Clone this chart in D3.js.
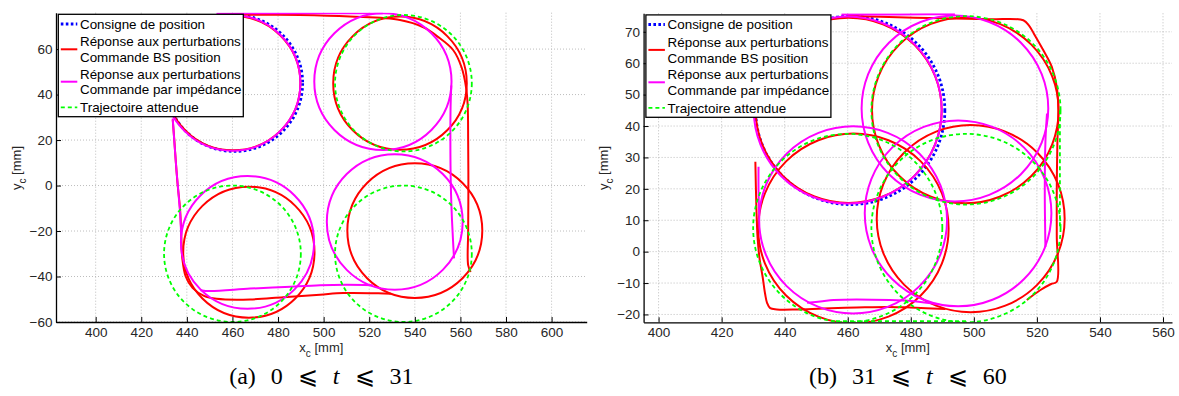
<!DOCTYPE html>
<html><head><meta charset="utf-8">
<script src="https://cdn.jsdelivr.net/npm/d3@7"></script>
<style>
body{margin:0;background:#fff;}
svg{display:block;}
.tick text{font-family:"Liberation Sans",Arial,sans-serif;font-size:13.5px;fill:#262626;}
.lbl{font-family:"Liberation Sans",Arial,sans-serif;font-size:13px;fill:#262626;}
.leg{font-family:"Liberation Sans",Arial,sans-serif;font-size:13.4px;fill:#000;}
.cap{font-family:"Liberation Serif","Times New Roman",serif;font-size:24px;fill:#000;word-spacing:9px;}
</style></head><body><svg id="c" width="1179" height="396"></svg>
<script>
// ---------- legend ----------
const legendLabels = [["Consigne de position"],["Réponse aux perturbations","Commande BS position"],["Réponse aux perturbations","Commande par impédance"],["Trajectoire attendue"]];

// ---------- panel (a) 0 <= t <= 31 ----------
const aXDomain = [382.6, 615.4];
const aYDomain = [-60, 76];
const aXTicks = [400,420,440,460,480,500,520,540,560,580,600];
const aYTicks = [-60,-40,-20,0,20,40,60];
const aConsigneCircles = [[460.8,45,30]];
const aBSCircles = [[460.3,45,29.5],[533.5,45,29.3],[540,-19.8,29.6],[467.2,-29.3,28.8]];
const aBSPaths = [
  [[459,75.2],[475,75.1],[489.6,75],[511.5,74.3],[533.5,72.8],[544,69.5],[550,65.5],[556.8,59.6],[560.5,52],[562.5,43],[563.2,35],[563.4,20],[563.5,0],[563.4,-20],[563.4,-35],[564.5,-38]],
  [[529.5,-47.6],[524,-47.4],[508.6,-47.3],[498.4,-48],[482.3,-49.1],[467.7,-50.1],[453.1,-49.8],[447.5,-48.5],[442.5,-45],[439.5,-40],[438,-32],[437.5,-20],[437,-10],[436,0],[435.2,10],[434.5,20],[433.8,29]]
];
const aImpCircles = [[460,45.1,29.8],[526,45.7,30.1],[531.2,-16,29.8],[466.6,-25,29.2]];
const aImpPaths = [
  [[453,75.7],[470,75.8],[490,75.8],[510,75.8],[526,75.8]],
  [[556,44],[555.7,35],[555.6,20],[555.8,0],[556.3,-15],[556.8,-25],[557.2,-32]],
  [[521.5,-43.8],[510,-43.6],[498.4,-43.8],[483,-44.6],[467.7,-45.3],[450.2,-46.4],[446,-46]],
  [[437.5,-22],[437.2,-14.6],[436.3,-3],[435.5,6],[434.6,18],[433.8,29.5]]
];
const aAttCircles = [[535,45,30],[460,-30,30],[535,-30,30]];
const aAttPaths = [];

// ---------- panel (b) 31 <= t <= 60 ----------
const bXDomain = [395.25, 562.85];
const bYDomain = [-22.5, 75.9];
const bXTicks = [400,420,440,460,480,500,520,540,560];
const bYTicks = [-20,-10,0,10,20,30,40,50,60,70];
const bConsigneCircles = [[460.8,45,30]];
const bBSCircles = [[460.3,45,29.5],[497.3,45,29.6],[499,10.5,29.8],[461.8,7.4,30.2]];
const bBSPaths = [
  [[460,75.1],[470.3,74.8],[490,74.3],[505,74],[515.7,73.7],[517.5,72],[519,69.5],[522,64.2],[524.7,58.9],[526.3,52.5],[526.8,45.1],[526.5,35],[526.3,20],[526.3,5],[526.3,-9.6],[524.5,-10.3],[521,-12.3],[516.8,-15.4]],
  [[491,-18.3],[480,-17.8],[473.4,-17.6],[462.9,-17.8],[452.3,-18.1],[443.9,-18.4],[437.5,-18.4],[435.4,-18],[434.4,-16.3],[433.8,-13.5],[433,-8],[432,-2],[431.4,4.5],[431,15],[430.7,28.6]]
];
const bImpCircles = [[460,45.1,29.8],[494,45.6,29.6],[495,12.2,29.6],[461.7,10.1,29.8]];
const bImpPaths = [
  [[458,75.5],[470,75.5],[485,75.6],[494,75.6]],
  [[523.2,44],[522.7,35],[522.5,20],[522.6,8],[522.7,1.5]],
  [[489,-16.8],[481,-15.8],[473.4,-15.4],[455.5,-15.4],[452,-15.8],[447.1,-16.3]],
  [[431.7,27],[431.7,20],[431.9,12]]
];
const bAttCircles = [[497.5,45,30],[460,7.5,30],[497.5,7.5,30]];
const bAttPaths = [[[527.3,45],[527.3,7.5]],[[497.5,-22.1],[455,-22.1]]];

const svg = d3.select("#c");

function drawPanel(id, box, xDom, yDom, xT, yT, cons, bsC, bsP, impC, impP, attC, attP, capLetter, capFrom, capTo){
  const x = d3.scaleLinear().domain(xDom).range([box.l, box.r]);
  const y = d3.scaleLinear().domain(yDom).range([box.b, box.t]);
  const g = svg.append("g");
  svg.append("clipPath").attr("id","clip"+id).append("rect")
    .attr("x",box.l).attr("y",box.t).attr("width",box.r-box.l).attr("height",box.b-box.t);
  // grid
  const grid = g.append("g").attr("stroke","#bdbdbd").attr("stroke-width",1).attr("stroke-dasharray","1,2");
  grid.selectAll(".gx").data(xT).join("line").attr("x1",d=>x(d)).attr("x2",d=>x(d)).attr("y1",box.t).attr("y2",box.b);
  grid.selectAll(".gy").data(yT).join("line").attr("y1",d=>y(d)).attr("y2",d=>y(d)).attr("x1",box.l).attr("x2",box.r);

  const plot = g.append("g").attr("clip-path","url(#clip"+id+")").attr("fill","none");
  const line = d3.line().x(d=>x(d[0])).y(d=>y(d[1])).curve(d3.curveCatmullRom.alpha(0.5));
  function ell(sel, data){
    return sel.selectAll(null).data(data).join("ellipse")
      .attr("cx",d=>x(d[0])).attr("cy",d=>y(d[1]))
      .attr("rx",d=>x(d[0]+d[2])-x(d[0])).attr("ry",d=>y(d[1])-y(d[1]+d[2]));
  }
  function pth(sel, data){
    return sel.selectAll(null).data(data).join("path").attr("d",line);
  }
  const gB = plot.append("g").attr("stroke","#0000ff").attr("stroke-width",2.8).attr("stroke-dasharray","2.6,2.4");
  ell(gB, cons);
  const gR = plot.append("g").attr("stroke","#ff0000").attr("stroke-width",2).attr("stroke-linejoin","round");
  ell(gR, bsC); pth(gR, bsP);
  const gM = plot.append("g").attr("stroke","#ff00ff").attr("stroke-width",2).attr("stroke-linejoin","round");
  ell(gM, impC); pth(gM, impP);
  const gG = plot.append("g").attr("stroke","#00ff00").attr("stroke-width",1.8).attr("stroke-dasharray","4,3");
  ell(gG, attC); pth(gG, attP);

  // axes
  const ax = g.append("g").attr("transform","translate(0,"+box.b+")")
    .call(d3.axisBottom(x).tickValues(xT).tickSizeInner(-5).tickSizeOuter(0).tickPadding(5).tickFormat(d3.format("d")));
  const ay = g.append("g").attr("transform","translate("+box.l+",0)")
    .call(d3.axisLeft(y).tickValues(yT).tickSizeInner(-5).tickSizeOuter(0).tickPadding(3.5).tickFormat(d3.format("d")));
  [ax,ay].forEach(a=>{a.select(".domain").attr("stroke","#000").attr("stroke-width",1.3);a.selectAll(".tick line").attr("stroke","#000");});

  // axis labels
  const cx = (box.l+box.r)/2;
  const xl = g.append("text").attr("class","lbl").attr("x",cx).attr("y",352).attr("text-anchor","middle");
  xl.append("tspan").text("x");
  xl.append("tspan").attr("dy",5).attr("font-size","10px").text("c");
  xl.append("tspan").attr("dy",-5).text(" [mm]");
  const yl = g.append("text").attr("class","lbl").attr("text-anchor","middle")
    .attr("transform","translate("+(box.l-35.5)+",168) rotate(-90)");
  yl.append("tspan").text("y");
  yl.append("tspan").attr("dy",5).attr("font-size","10px").text("c");
  yl.append("tspan").attr("dy",-5).text(" [mm]");

  // legend
  const lg = g.append("g").attr("transform","translate("+(box.l+2.3)+","+(box.t+1.6)+")");
  lg.append("rect").attr("width",185).attr("height",102.4).attr("fill","#fff").attr("stroke","#000").attr("stroke-width",1.3);
  const rows = [[9.7],[27.4,43],[59.7,75],[93]];
  const samples = [9.7,35,67.4,93];
  const sStyles = [{c:"#0000ff",w:3,d:"2.6,2.4"},{c:"#ff0000",w:2,d:null},{c:"#ff00ff",w:2,d:null},{c:"#00ff00",w:1.8,d:"4,3"}];
  legendLabels.forEach((lab,i)=>{
    lg.append("line").attr("x1",2.5).attr("x2",19).attr("y1",samples[i]).attr("y2",samples[i])
      .attr("stroke",sStyles[i].c).attr("stroke-width",sStyles[i].w).attr("stroke-dasharray",sStyles[i].d);
    lab.forEach((t,j)=>{
      lg.append("text").attr("class","leg").attr("x",21.7).attr("y",rows[i][j]).attr("dy","0.35em").text(t);
    });
  });

  // caption
  const cap = g.append("text").attr("class","cap").attr("x",cx).attr("y",384).attr("text-anchor","middle");
  cap.append("tspan").text("("+capLetter+") "+capFrom+" \u2A7D ");
  cap.append("tspan").attr("font-style","italic").text("t");
  cap.append("tspan").text(" \u2A7D "+capTo);
}

drawPanel("a", {l:56,r:586.7,t:12.7,b:322}, aXDomain, aYDomain, aXTicks, aYTicks,
  aConsigneCircles, aBSCircles, aBSPaths, aImpCircles, aImpPaths, aAttCircles, aAttPaths, "a", "0", "31");
drawPanel("b", {l:643.6,r:1172,t:13.3,b:322.3}, bXDomain, bYDomain, bXTicks, bYTicks,
  bConsigneCircles, bBSCircles, bBSPaths, bImpCircles, bImpPaths, bAttCircles, bAttPaths, "b", "31", "60");
</script></body></html>
